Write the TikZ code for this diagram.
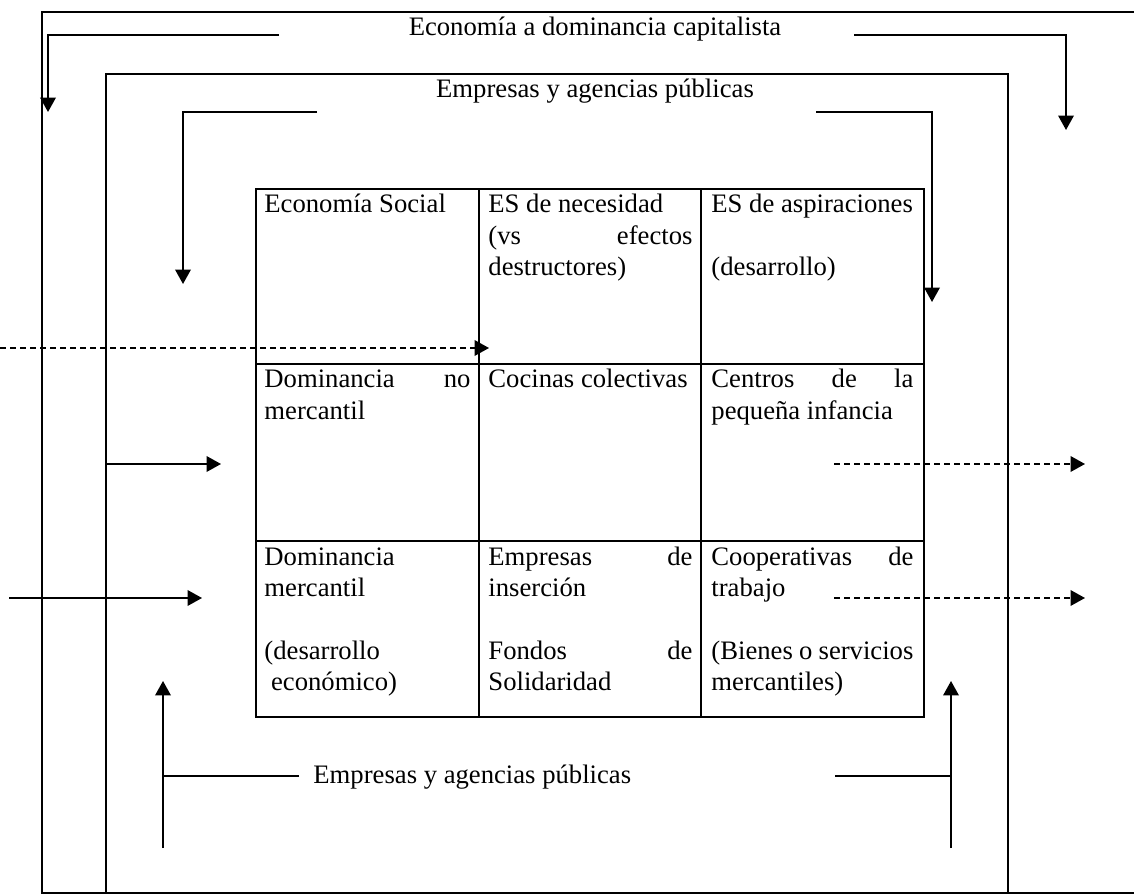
\documentclass[tikz,border=0pt]{standalone}
\usepackage{fontspec}
\setmainfont{Liberation Serif}
\usetikzlibrary{arrows.meta}
\newcommand\justline[1]{\leavevmode\hbox to\linewidth{#1}}
\begin{document}
\begin{tikzpicture}[x=0.45pt,y=-0.45pt,
  frame/.style={line width=0.9pt},
  gridline/.style={line width=1.1pt},
  conn/.style={line width=0.8pt,-{Triangle[length=6.5pt,width=7pt]}},
  plainline/.style={line width=0.8pt},
  dconn/.style={conn,dash pattern=on 2.7pt off 1.8pt},
  lbl/.style={inner sep=0pt,font=\fontsize{12}{14.1}\selectfont},
  cell/.style={lbl,anchor=base west}]
\useasboundingbox (0,0) rectangle (1134,895);
% frames
\draw[frame] (1134,12) -- (42,12) -- (42,893) -- (1134,893);
\draw[frame] (106,893) -- (106,74) -- (1008,74) -- (1008,893);
% table
\draw[gridline] (256,189) rectangle (924,717);
\draw[gridline] (479,189) -- (479,717);
\draw[gridline] (701,189) -- (701,717);
\draw[gridline] (256,364) -- (924,364);
\draw[gridline] (256,541) -- (924,541);
% titles
\node[lbl,anchor=base] (t1) at (595,36) {Economía a dominancia capitalista};
\node[lbl,anchor=base] (t2) at (595,98) {Empresas y agencias públicas};
\node[lbl,anchor=base west] (t3) at (313,783) {Empresas y agencias públicas};
% cells
\node[cell] (c11) at (264,213) {\parbox[t]{92.7pt}{Economía Social}};
\node[cell] (c12) at (488,213) {\parbox[t]{91.8pt}{ES de necesidad\\\justline{(vs\hfill efectos}\\destructores)}};
\node[cell] (c13) at (711,213) {\parbox[t]{90.9pt}{ES de aspiraciones\\[\baselineskip](desarrollo)}};
\node[cell] (c21) at (264,388) {\parbox[t]{92.7pt}{\justline{Dominancia\hfill no}\\mercantil}};
\node[cell] (c22) at (488,388) {\parbox[t]{91.8pt}{Cocinas colectivas}};
\node[cell] (c23) at (711,388) {\parbox[t]{90.9pt}{\justline{Centros\hfill de\hfill la}\\pequeña infancia}};
\node[cell] (c31) at (264,565) {\parbox[t]{92.7pt}{Dominancia\\mercantil\\[\baselineskip](desarrollo\\\hspace*{0.25em}económico)}};
\node[cell] (c32) at (488,565) {\parbox[t]{91.8pt}{\justline{Empresas\hfill de}\\inserción\\[\baselineskip]\justline{Fondos\hfill de}\\Solidaridad}};
\node[cell] (c33) at (711,565) {\parbox[t]{90.9pt}{\justline{Cooperativas\hfill de}\\trabajo\\[\baselineskip](Bienes o servicios\\mercantiles)}};
% arrow coordinates
\coordinate (a1s) at (279,35);  \coordinate (a1c) at (48,35);   \coordinate (a1e) at (48,112);
\coordinate (a2s) at (854,35);  \coordinate (a2c) at (1066,35); \coordinate (a2e) at (1066,130);
\coordinate (a3s) at (317,112); \coordinate (a3c) at (183,112); \coordinate (a3e) at (183,284);
\coordinate (a4s) at (816,112); \coordinate (a4c) at (932,112); \coordinate (a4e) at (932,302);
\coordinate (d1s) at (0,348);   \coordinate (d1e) at (489,348);
\coordinate (s1s) at (106,464); \coordinate (s1e) at (221,464);
\coordinate (s2s) at (9,598);   \coordinate (s2e) at (202,598);
\coordinate (d2s) at (834,464); \coordinate (d2e) at (1085,464);
\coordinate (d3s) at (834,598); \coordinate (d3e) at (1085,598);
\coordinate (b1h) at (299,776); \coordinate (b1c) at (163,776);
\coordinate (b1s) at (163,848); \coordinate (b1e) at (163,681);
\coordinate (b2h) at (835,776); \coordinate (b2c) at (951,776);
\coordinate (b2s) at (951,848); \coordinate (b2e) at (951,681);
% arrows
\draw[conn] (a1s) -- (a1c) -- (a1e);
\draw[conn] (a2s) -- (a2c) -- (a2e);
\draw[conn] (a3s) -- (a3c) -- (a3e);
\draw[conn] (a4s) -- (a4c) -- (a4e);
\draw[dconn] (d1s) -- (d1e);
\draw[conn] (s1s) -- (s1e);
\draw[conn] (s2s) -- (s2e);
\draw[dconn] (d2s) -- (d2e);
\draw[dconn] (d3s) -- (d3e);
\draw[plainline] (b1h) -- (b1c);
\draw[conn] (b1s) -- (b1e);
\draw[plainline] (b2h) -- (b2c);
\draw[conn] (b2s) -- (b2e);
\end{tikzpicture}
\end{document}
